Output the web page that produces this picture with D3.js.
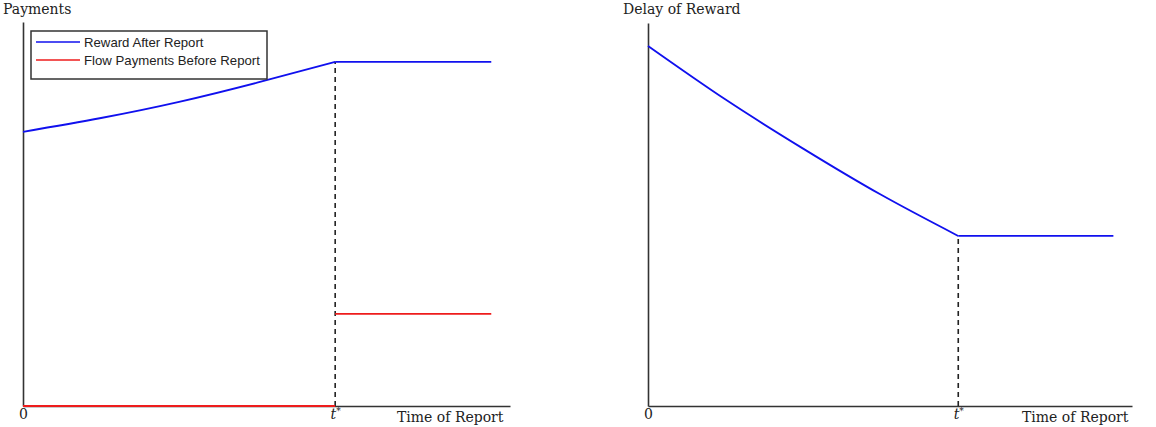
<!DOCTYPE html>
<html>
<head>
<meta charset="utf-8">
<script src="https://cdn.jsdelivr.net/npm/d3@7"></script>
<style>
  body { margin: 0; background: #fff; }
  text { fill: #222; }
</style>
</head>
<body>
<svg width="1156" height="427"></svg>
<script>
// time of report, t* = 1
const times = [0, 0.25, 0.5, 0.75, 1];
const tEnd = 1.5;
const tStar = 1;

// left panel
const rewardAfter = [0.714, 0.750, 0.792, 0.842, 0.896];
const flowBefore = 0;
const flowAfter = 0.24;

// right panel
const delayOfReward = [0.940, 0.800, 0.672, 0.552, 0.444];

const xTicks = [0, tStar];
const legendLabels = ["Reward After Report", "Flow Payments Before Report"];
const legendColors = ["#1010ee", "#ee1c1c"];

const svg = d3.select("svg");
const serif = "'DejaVu Serif', serif";

function panel(left, right, top, yLabel, xLabelX) {
  const g = svg.append("g");
  const x = d3.scaleLinear().domain([0, 1.56]).range([left, right]);
  const y = d3.scaleLinear().domain([0, 1]).range([406, top]);

  // x axis with 0 and t*
  const xAxis = g.append("g")
    .attr("transform", "translate(0,406)")
    .call(d3.axisBottom(x).tickValues(xTicks).tickSize(0).tickSizeOuter(0)
      .tickFormat(d => d === 0 ? "0" : "t"));
  xAxis.select(".domain").attr("stroke", "#333").attr("stroke-width", 1.6);
  xAxis.selectAll(".tick text")
    .attr("y", 3)
    .attr("font-family", serif)
    .attr("font-size", 14)
    .attr("fill", "#222");
  xAxis.selectAll(".tick text").filter(d => d === tStar)
    .attr("font-style", "italic")
    .append("tspan").attr("dy", -5).attr("font-size", 9).attr("font-style", "normal").text("*");

  const yAxis = g.append("g")
    .attr("transform", "translate(" + left + ",0)")
    .call(d3.axisLeft(y).tickValues([]).tickSizeOuter(0));
  yAxis.select(".domain").attr("stroke", "#333").attr("stroke-width", 1.6);

  g.append("text")
    .attr("x", xLabelX).attr("y", 422)
    .attr("font-family", serif).attr("font-size", 14)
    .text("Time of Report");

  g.append("text")
    .attr("x", yLabel.x).attr("y", 14)
    .attr("font-family", serif).attr("font-size", 14)
    .text(yLabel.text);

  return { g, x, y };
}

function drawCurve(p, values, color) {
  const pts = times.map((t, i) => [t, values[i]]);
  const line = d3.line().x(d => p.x(d[0])).y(d => p.y(d[1]));
  p.g.append("path")
    .attr("d", line.curve(d3.curveNatural)(pts))
    .attr("fill", "none").attr("stroke", color).attr("stroke-width", 1.8);
  const last = values[values.length - 1];
  p.g.append("path")
    .attr("d", d3.line().x(d => p.x(d[0])).y(d => p.y(d[1]))([[tStar, last], [tEnd, last]]))
    .attr("fill", "none").attr("stroke", color).attr("stroke-width", 1.8);
}

function dashed(p, top) {
  p.g.append("line")
    .attr("x1", p.x(tStar)).attr("x2", p.x(tStar))
    .attr("y1", p.y(0)).attr("y2", p.y(top))
    .attr("stroke", "#222").attr("stroke-width", 1.6)
    .attr("stroke-dasharray", "5,4");
}

// ---- left: payments
const pL = panel(23, 510, 22, { text: "Payments", x: 3 }, 397);
dashed(pL, rewardAfter[rewardAfter.length - 1]);
drawCurve(pL, rewardAfter, legendColors[0]);
pL.g.append("line")
  .attr("x1", pL.x(0)).attr("x2", pL.x(tStar))
  .attr("y1", pL.y(flowBefore)).attr("y2", pL.y(flowBefore))
  .attr("stroke", legendColors[1]).attr("stroke-width", 2);
pL.g.append("line")
  .attr("x1", pL.x(tStar)).attr("x2", pL.x(tEnd))
  .attr("y1", pL.y(flowAfter)).attr("y2", pL.y(flowAfter))
  .attr("stroke", legendColors[1]).attr("stroke-width", 1.8);

// legend
const leg = svg.append("g").attr("transform", "translate(31,31)");
leg.append("rect")
  .attr("width", 236).attr("height", 48)
  .attr("fill", "#fff").attr("stroke", "#333").attr("stroke-width", 1.5);
legendLabels.forEach((lab, i) => {
  leg.append("line")
    .attr("x1", 5).attr("x2", 49)
    .attr("y1", 11 + i * 18).attr("y2", 11 + i * 18)
    .attr("stroke", legendColors[i]).attr("stroke-width", 1.5);
  leg.append("text")
    .attr("x", 53).attr("y", 16 + i * 18)
    .attr("font-family", "'Liberation Sans', Arial, sans-serif")
    .attr("font-size", 13.2)
    .text(lab);
});

// ---- right: delay of reward
const pR = panel(648, 1132, 23, { text: "Delay of Reward", x: 623 }, 1022);
dashed(pR, delayOfReward[delayOfReward.length - 1]);
drawCurve(pR, delayOfReward, legendColors[0]);
</script>
</body>
</html>
